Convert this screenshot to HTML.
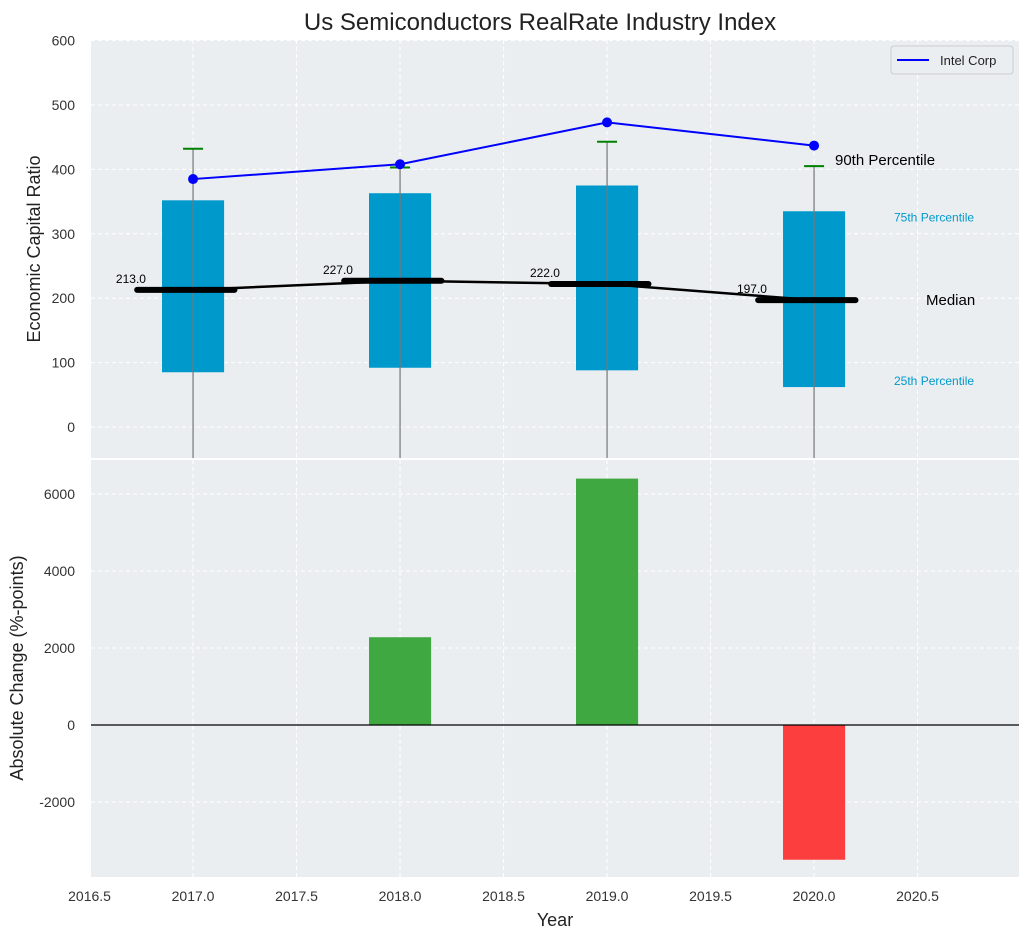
<!DOCTYPE html>
<html><head><meta charset="utf-8"><style>
body{margin:0;background:#fff;font-family:"Liberation Sans",sans-serif}
svg text{font-family:"Liberation Sans",sans-serif}
</style></head><body>
<svg id="c" width="1029" height="940" xmlns="http://www.w3.org/2000/svg">
<text x="540" y="30" font-size="24" text-anchor="middle" fill="#222">Us Semiconductors RealRate Industry Index</text>
<g id="topg"></g><g id="botg"></g>
</svg>
<script>
const years=[2017,2018,2019,2020];
const p25=[85,92,88,62];
const p75=[352,363,375,335];
const p90=[432,403,443,405];
const medians=[213,227,222,197];
const intel=[385,408,473,437];
const changes=[0,2280,6400,-3500];
const topTicks=[0,100,200,300,400,500,600];
const botTicks=[-2000,0,2000,4000,6000];
const xTicks=[2016.5,2017,2017.5,2018,2018.5,2019,2019.5,2020,2020.5];
const NS='http://www.w3.org/2000/svg';
const L=91,R=1019;
const X=v=>L+(v-2016.507)/(2020.99-2016.507)*(R-L);
const Y1=v=>427-v*0.644;
const Y2=v=>725-v*77/2000;
function mk(p,t,a,name,txt){const e=document.createElementNS(NS,t);for(const k in a)e.setAttribute(k,a[k]);


if(txt!==undefined)e.textContent=txt;p.appendChild(e);return e;}
const gTop=document.getElementById('topg'),gBot=document.getElementById('botg');
mk(gTop,'rect',{x:L,y:40,width:R-L,height:418,fill:'#eaeef0'},'top-plot-area');
mk(gBot,'rect',{x:L,y:460,width:R-L,height:417,fill:'#eaeef0'},'bottom-plot-area');
xTicks.forEach(t=>{const x=X(t);
mk(gTop,'line',{x1:x,x2:x,y1:40,y2:458,stroke:'#fff','stroke-dasharray':'4,3'},'top-x-grid');
mk(gBot,'line',{x1:x,x2:x,y1:460,y2:877,stroke:'#fff','stroke-dasharray':'4,3'},'bottom-x-grid');
mk(gBot,'text',{x:x,y:901,'font-size':14,'text-anchor':'middle',fill:'#333'},'x-tick-label',t.toFixed(1));});
topTicks.forEach(t=>{const y=Y1(t);
mk(gTop,'line',{x1:L,x2:R,y1:y,y2:y,stroke:'#fff','stroke-dasharray':'4,3'},'top-y-grid');
mk(gTop,'text',{x:75,y:y+5,'font-size':14,'text-anchor':'end',fill:'#333'},'top-y-tick-label',t);});
botTicks.forEach(t=>{const y=Y2(t);
mk(gBot,'line',{x1:L,x2:R,y1:y,y2:y,stroke:'#fff','stroke-dasharray':'4,3'},'bottom-y-grid');
mk(gBot,'text',{x:75,y:y+5,'font-size':14,'text-anchor':'end',fill:'#333'},'bottom-y-tick-label',t);});
const w=0.15;
years.forEach((yr,i)=>{
mk(gTop,'rect',{x:X(yr-w),y:Y1(p75[i]),width:X(yr+w)-X(yr-w),height:Y1(p25[i])-Y1(p75[i]),fill:'#0099cc'},'iqr-box-'+yr);
mk(gTop,'line',{x1:X(yr),x2:X(yr),y1:Y1(p90[i]),y2:458,stroke:'#777','stroke-width':1.2},'whisker-'+yr);
mk(gTop,'line',{x1:X(yr)-10,x2:X(yr)+10,y1:Y1(p90[i]),y2:Y1(p90[i]),stroke:'green','stroke-width':2},'p90-cap-'+yr);
mk(gTop,'line',{x1:X(yr-0.27),x2:X(yr+0.2),y1:Y1(medians[i]),y2:Y1(medians[i]),stroke:'#000','stroke-width':6,'stroke-linecap':'round'},'median-bar-'+yr);
mk(gTop,'text',{x:X(yr-0.3),y:Y1(medians[i])-7,'font-size':12,'text-anchor':'middle',fill:'#000'},'median-label-'+yr,medians[i].toFixed(1));
});
mk(gTop,'polyline',{points:years.map((y,i)=>X(y)+','+Y1(medians[i])).join(' '),fill:'none',stroke:'#000','stroke-width':2.5},'median-line');
mk(gTop,'polyline',{points:years.map((y,i)=>X(y)+','+Y1(intel[i])).join(' '),fill:'none',stroke:'blue','stroke-width':2},'intel-line');
years.forEach((y,i)=>mk(gTop,'circle',{cx:X(y),cy:Y1(intel[i]),r:5,fill:'blue'},'intel-point-'+y));
mk(gTop,'text',{x:835,y:Y1(p90[3])-1,'font-size':15,fill:'#000'},'p90-annotation','90th Percentile');
mk(gTop,'text',{x:894,y:Y1(p75[3])+10,'font-size':12,fill:'#0099cc'},'p75-annotation','75th Percentile');
mk(gTop,'text',{x:926,y:Y1(medians[3])+5,'font-size':15,fill:'#000'},'median-annotation','Median');
mk(gTop,'text',{x:894,y:Y1(p25[3])-2,'font-size':12,fill:'#0099cc'},'p25-annotation','25th Percentile');
const lg=mk(gTop,'g',{},'legend');
mk(lg,'rect',{x:891,y:46,width:122,height:28,fill:'#eaeef0',stroke:'#ccc',rx:3},'legend-box');
mk(lg,'line',{x1:897,x2:929,y1:60,y2:60,stroke:'blue','stroke-width':2},'legend-swatch');
mk(lg,'text',{x:940,y:65,'font-size':13,fill:'#222'},'legend-label','Intel Corp');
years.forEach((yr,i)=>{const v=changes[i];if(!v)return;
mk(gBot,'rect',{x:X(yr-w),y:Math.min(Y2(0),Y2(v)),width:X(yr+w)-X(yr-w),height:Math.abs(Y2(v)-Y2(0)),fill:v>0?'#2ca02c':'#ff2a2a','fill-opacity':0.9},'change-bar-'+yr);});
mk(gBot,'line',{x1:L,x2:R,y1:Y2(0),y2:Y2(0),stroke:'#000','stroke-width':1.2},'zero-line');
mk(gTop,'text',{x:40,y:249,'font-size':18,'text-anchor':'middle',fill:'#222',transform:'rotate(-90 40 249)'},'top-y-axis-title','Economic Capital Ratio');
mk(gBot,'text',{x:23,y:668,'font-size':18,'text-anchor':'middle',fill:'#222',transform:'rotate(-90 23 668)'},'bottom-y-axis-title','Absolute Change (%-points)');
mk(gBot,'text',{x:555,y:926,'font-size':18,'text-anchor':'middle',fill:'#222'},'x-axis-title','Year');
</script></body></html>
